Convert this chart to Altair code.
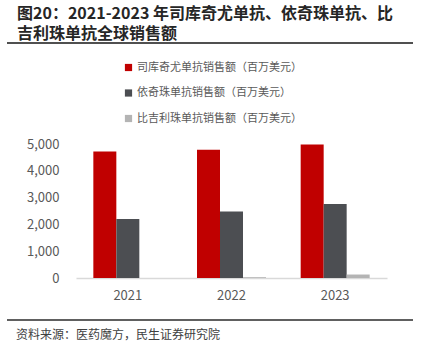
import altair as alt
import pandas as pd

years = ["2021", "2022", "2023"]
series = ["司库奇尤单抗销售额（百万美元）", "依奇珠单抗销售额（百万美元）", "比吉利珠单抗销售额（百万美元）"]
cosentyx = [4718, 4788, 4980]
taltz = [2202, 2482, 2761]
bimzelx = [0, 30, 130]
colors = ["#C00000", "#4C4E52", "#B4B4B4"]
y_ticks = [0, 1000, 2000, 3000, 4000, 5000]
title_text = "图20：2021-2023 年司库奇尤单抗、依奇珠单抗、比\n吉利珠单抗全球销售额"
source_text = "资料来源：医药魔方，民生证券研究院"

rows = []
for vals, s in zip([cosentyx, taltz, bimzelx], series):
    for y, v in zip(years, vals):
        rows.append({"year": y, "series": s, "value": v})
df = pd.DataFrame(rows)
one = pd.DataFrame({"k": [0]})

FONT = "Noto Sans CJK SC"

bars = alt.Chart(df).mark_bar().encode(
    x=alt.X("year:N", sort=years, title=None,
            scale=alt.Scale(paddingInner=0, paddingOuter=0),
            axis=alt.Axis(labelAngle=0, ticks=False, domainColor="#d9d9d9", domainWidth=1.5,
                          labelColor="#595959", labelFontSize=13, labelPadding=11, labelFont=FONT)),
    xOffset=alt.XOffset("series:N", sort=series,
                        scale=alt.Scale(paddingInner=0, paddingOuter=0.754)),
    y=alt.Y("value:Q", title=None,
            scale=alt.Scale(domain=[0, 5000], nice=False),
            axis=alt.Axis(values=y_ticks, format=",.0f", grid=False, domain=False, ticks=False,
                          labelColor="#595959", labelFontSize=13, labelPadding=17, labelFont=FONT)),
    color=alt.Color("series:N", sort=series,
                    scale=alt.Scale(domain=series, range=colors),
                    legend=alt.Legend(orient="none", legendX=47, legendY=-82, title=None,
                                      direction="vertical", symbolType="square", symbolSize=52,
                                      symbolStrokeWidth=0, labelFontSize=11, labelColor="#595959",
                                      labelFont=FONT, rowPadding=13.5, labelOffset=3, padding=0,
                                      labelLimit=0)),
)

title = alt.Chart(one).mark_text(
    align="left", baseline="middle", fontSize=16, fontWeight="bold", font=FONT,
    color="#262626", lineBreak="\n", lineHeight=20
).encode(x=alt.value(-59), y=alt.value(-130), text=alt.value(title_text))

top_rule = alt.Chart(one).mark_rule(color="#505050", strokeWidth=2).encode(
    x=alt.value(-69), x2=alt.value(337), y=alt.value(-101))

bottom_rule = alt.Chart(one).mark_rule(color="#606060", strokeWidth=2).encode(
    x=alt.value(-69), x2=alt.value(337), y=alt.value(176))

source = alt.Chart(one).mark_text(
    align="left", baseline="middle", fontSize=12, font=FONT, color="#404040"
).encode(x=alt.value(-60), y=alt.value(191), text=alt.value(source_text))

chart = alt.layer(bars, title, top_rule, bottom_rule, source).properties(
    width=311, height=134,
    autosize=alt.AutoSizeParams(type="none"),
    padding={"left": 76, "top": 144, "right": 41, "bottom": 70},
    background="white",
).configure_view(stroke=None)

chart.save("out.html", embed_options={"renderer": "svg", "actions": False})
